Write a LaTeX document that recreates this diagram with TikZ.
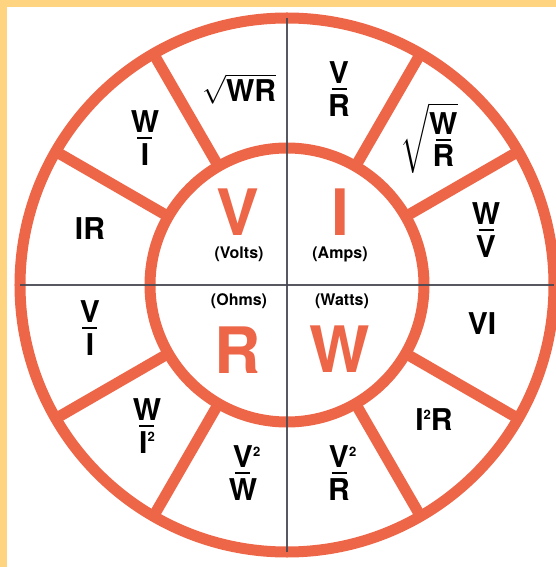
\documentclass[tikz,border=0pt]{standalone}
\usepackage{amsmath}
\usepackage{fontspec}
\setmainfont{TeX Gyre Heros}
\definecolor{ringred}{RGB}{238,102,72}
\definecolor{pagegold}{RGB}{255,212,128}
\definecolor{axisgray}{RGB}{70,70,80}
% a letter over a short bar over a letter
\newcommand{\ovr}[2]{\vbox{\offinterlineskip\halign{\hfil##\hfil\cr#1\cr\noalign{\kern2pt}\rule{7.5pt}{1.2pt}\cr\noalign{\kern2pt}#2\cr}}}
% small square sign, level with the top of the letter
\newcommand{\sqd}{\raisebox{5.6pt}{\fontsize{6.5}{7}\selectfont 2}}

\begin{document}
\begin{tikzpicture}[x=0.5pt, y=0.5pt,
    ring/.style={line width=5.5pt, ringred},
    spoke/.style={line width=5.5pt, ringred},
    axis/.style={line width=0.8pt, axisgray, opacity=0.9},
    quantity/.style={font=\bfseries\fontsize{32}{32}\selectfont, text=ringred, inner sep=0pt},
    unit/.style={font=\bfseries\fontsize{8}{9}\selectfont, inner sep=0pt},
    formula/.style={font=\bfseries\fontsize{15}{16}\selectfont, inner sep=0pt}]
  \useasboundingbox (-287,-282) rectangle (269,285);
  % gold frame on the left and at the top
  \fill[pagegold] (-287,-282) rectangle (269,285);
  \fill[white] (-280,-282) rectangle (269,278);
  \coordinate (O) at (0,0);
  % the twelve sectors: spokes, then the two rings
  \foreach \a in {30,60,120,150,210,240,300,330}
    \draw[spoke] (\a:137) -- (\a:267);
  \draw[ring] (O) circle[radius=137];
  \draw[ring] (O) circle[radius=267];
  % the thin cross through the centre
  \draw[axis] (180:267) -- (0:267);
  \draw[axis] (90:267) -- (270:267);
  % the four quantities in the inner circle
  \node[quantity] (V) at (-49,73) {V};
  \node[quantity] (I) at (53,73) {I};
  \node[quantity] (R) at (-49,-65) {R};
  \node[quantity] (W) at (53,-64) {W};
  \node[unit] (volts) at (-48,31) {(Volts)};
  \node[unit] (amps) at (53,31) {(Amps)};
  \node[unit] (ohms) at (-48,-16) {(Ohms)};
  \node[unit] (watts) at (55,-16) {(Watts)};
  % formulas in the outer ring, three for each quantity
  \node[formula] (sqWR) at (-48,196) {$\sqrt{\text{WR}}$};
  \node[formula] (WbyI) at (-142,147) {\ovr{W}{I}};
  \node[formula] (IR) at (-197,56) {IR};
  \node[formula] (VbyR) at (52,196) {\ovr{V}{R}};
  \node[formula] (sqWbyR) at (142,147) {$\sqrt{\text{\ovr{W}{R}}}$};
  \node[formula] (WbyV) at (199,55) {\ovr{W}{V}};
  \node[formula] (VbyI) at (-197,-43) {\ovr{V}{I}};
  \node[formula] (WbyIsq) at (-140,-141) {\ovr{W}{I\sqd}};
  \node[formula] (VsqbyW) at (-44,-188) {\ovr{V\rlap{\sqd}}{W}};
  \node[formula] (VI) at (195,-39) {VI};
  \node[formula] (IsqR) at (147,-135) {I\sqd R};
  \node[formula] (VsqbyR) at (52,-188) {\ovr{V\rlap{\sqd}}{R}};
\end{tikzpicture}
\end{document}
